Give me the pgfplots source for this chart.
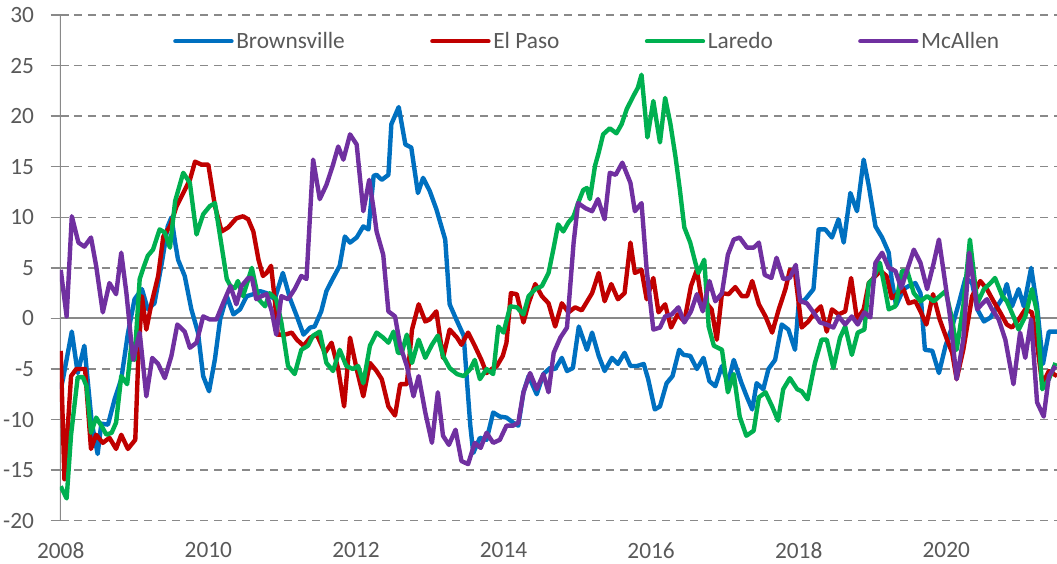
\documentclass[border=0pt]{standalone}
\usepackage{fontspec}
\setmainfont{Carlito}
\usepackage{pgfplots}
\pgfplotsset{compat=1.18}
\definecolor{cBlue}{HTML}{0070C0}
\definecolor{cRed}{HTML}{C00000}
\definecolor{cGreen}{HTML}{00B050}
\definecolor{cPurple}{HTML}{7030A0}
\definecolor{gridg}{HTML}{898989}
\definecolor{txtg}{HTML}{595959}
\begin{document}
\begin{tikzpicture}
\begin{axis}[
  at={(0,0)}, anchor=south west,
  scale only axis, width=747.75pt, height=379.3pt,
  xmin=2007.99, xmax=2021.5, ymin=-20, ymax=30,
  xtick={2008,2010,2012,2014,2016,2018,2020},
  xticklabels={2008,2010,2012,2014,2016,2018,2020},
  ytick={-20,-15,...,30},
  xtick style={draw=none},
  ytick pos=left,
  tick align=center,
  major tick length=14pt,
  ytick style={gridg, line width=1pt},
  axis line style={draw=none},
  ymajorgrids=true,
  major grid style={gridg, line width=1.1pt, dash pattern=on 6pt off 4.5pt},
  extra y ticks={0},
  extra y tick labels={},
  extra y tick style={grid=major, major grid style={gridg, line width=1.5pt, solid}},
  /pgf/number format/assume math mode=true,
  tick label style={font=\fontsize{17.5}{20}\selectfont, text=txtg},
  yticklabel style={xshift=-9pt},
  xticklabel style={yshift=-6pt},
  legend style={at={(axis description cs:0.1133,0.948)}, anchor=west, draw=none, fill=none,
    font=\fontsize{17.5}{20}\selectfont, text=txtg, legend columns=4,
    /tikz/every even column/.append style={column sep=62pt},
    inner sep=0pt},
  legend image code/.code={\draw[#1, line cap=round] (0pt,0pt) -- (42pt,0pt);},
  every axis plot/.append style={line width=3.3pt, line join=round},
]
\draw[gridg, line width=1.3pt] (axis description cs:0,0) -- (axis description cs:0,1);
\addplot[cBlue] coordinates {(2008.00,-7)(2008.03,-6)(2008.15,-1.3)(2008.23,-5.4)(2008.32,-2.7)(2008.42,-10.3)(2008.50,-13.4)(2008.55,-10.4)(2008.64,-10.5)(2008.73,-8)(2008.82,-6)(2008.91,-1.5)(2009.00,1.9)(2009.10,2.9)(2009.18,0.9)(2009.27,1.5)(2009.37,5.5)(2009.45,9.1)(2009.50,10)(2009.55,7.5)(2009.59,5.8)(2009.68,4.2)(2009.77,0.9)(2009.86,-1.4)(2009.93,-5.7)(2010.01,-7.2)(2010.09,-4)(2010.16,-0.1)(2010.25,2.2)(2010.34,0.4)(2010.43,0.9)(2010.52,2.2)(2010.61,2.4)(2010.70,2.7)(2010.79,2.5)(2010.90,1.9)(2011.01,4.5)(2011.11,1.9)(2011.20,0.2)(2011.29,-1.6)(2011.38,-0.9)(2011.44,-0.8)(2011.53,0.7)(2011.60,2.7)(2011.67,3.7)(2011.78,5.2)(2011.85,8.1)(2011.92,7.5)(2012.01,8)(2012.10,9.1)(2012.17,8.8)(2012.24,14.1)(2012.28,14.2)(2012.35,13.7)(2012.44,14.2)(2012.48,19.2)(2012.58,20.9)(2012.67,17.2)(2012.75,16.9)(2012.84,12.4)(2012.91,13.9)(2013.00,12.6)(2013.09,10.8)(2013.21,7.8)(2013.27,1.4)(2013.36,-0.1)(2013.46,-1.7)(2013.50,-5.7)(2013.55,-10.6)(2013.59,-13.3)(2013.68,-11.8)(2013.77,-12)(2013.86,-9.3)(2013.95,-9.7)(2014.04,-9.8)(2014.13,-10.3)(2014.20,-10.6)(2014.27,-7.3)(2014.34,-5.7)(2014.45,-7.5)(2014.54,-5.5)(2014.63,-4.9)(2014.70,-5)(2014.79,-3.9)(2014.86,-5.2)(2014.94,-4.9)(2015.02,-0.8)(2015.13,-3.1)(2015.20,-1.4)(2015.29,-3.7)(2015.37,-5.2)(2015.47,-3.9)(2015.55,-4.5)(2015.64,-3.4)(2015.72,-4.7)(2015.81,-4.7)(2015.90,-4.5)(2015.96,-6)(2016.05,-9)(2016.12,-8.7)(2016.21,-6.4)(2016.29,-5.7)(2016.38,-3.1)(2016.44,-3.6)(2016.53,-3.7)(2016.62,-5)(2016.71,-3.9)(2016.79,-6.2)(2016.87,-6.7)(2016.96,-4.7)(2017.04,-6.4)(2017.12,-4.1)(2017.22,-6.3)(2017.30,-7.8)(2017.37,-9)(2017.43,-6.4)(2017.52,-7)(2017.59,-5)(2017.68,-4.1)(2017.77,-0.6)(2017.86,-1.1)(2017.95,-3.1)(2018.00,1.5)(2018.09,1.9)(2018.20,2.9)(2018.27,8.8)(2018.36,8.8)(2018.45,8)(2018.54,9.8)(2018.61,7.5)(2018.70,12.4)(2018.79,10.6)(2018.88,15.7)(2018.95,13.1)(2019.04,9.1)(2019.13,8)(2019.22,6.5)(2019.26,3.8)(2019.32,1.3)(2019.42,2.9)(2019.49,3.2)(2019.58,3.5)(2019.65,2.5)(2019.71,-3.1)(2019.81,-3.2)(2019.90,-5.4)(2019.99,-2.7)(2020.08,-0.8)(2020.17,1.5)(2020.26,4)(2020.35,3.5)(2020.42,0.9)(2020.51,-0.3)(2020.60,0.1)(2020.69,1.2)(2020.76,2)(2020.82,3.4)(2020.89,1.2)(2020.98,2.9)(2021.05,1.2)(2021.15,5)(2021.23,1.2)(2021.31,-4.5)(2021.39,-1.3)(2021.50,-1.3)};
\addlegendentry{Brownsville}
\addplot[cRed] coordinates {(2008.00,-3.2)(2008.05,-15.9)(2008.14,-5.7)(2008.21,-5)(2008.33,-5)(2008.41,-12.9)(2008.48,-11.5)(2008.57,-12.3)(2008.66,-11.8)(2008.75,-12.9)(2008.82,-11.5)(2008.91,-12.9)(2009.01,-12)(2009.05,-4.1)(2009.10,2.2)(2009.16,-1.1)(2009.23,1.5)(2009.32,4.2)(2009.39,8.1)(2009.48,9.1)(2009.57,11.1)(2009.66,12.4)(2009.75,13.7)(2009.82,15.5)(2009.91,15.2)(2010.00,15.2)(2010.09,11.1)(2010.18,8.6)(2010.27,9)(2010.38,9.9)(2010.47,10.1)(2010.54,9.8)(2010.61,8.6)(2010.68,5.8)(2010.74,4.2)(2010.79,4.5)(2010.85,5.2)(2010.90,1.9)(2010.94,-1.6)(2011.04,-1.6)(2011.13,-1.4)(2011.20,-2.1)(2011.29,-2.7)(2011.38,-1.9)(2011.47,-1.6)(2011.58,-3.4)(2011.67,-2.4)(2011.76,-5)(2011.84,-8.7)(2011.92,-1.9)(2012.01,-5)(2012.10,-7.7)(2012.19,-4.4)(2012.28,-5.2)(2012.35,-6)(2012.44,-8.7)(2012.53,-9.6)(2012.60,-6.5)(2012.69,-6.5)(2012.76,-1.1)(2012.85,1.4)(2012.94,-0.3)(2013.00,-0.1)(2013.09,0.7)(2013.18,-3.9)(2013.27,-1.1)(2013.37,-1.9)(2013.43,-2.6)(2013.52,-1.4)(2013.61,-2.7)(2013.70,-4.1)(2013.77,-5.4)(2013.84,-5)(2013.91,-4.7)(2013.99,-3.7)(2014.04,-2.4)(2014.10,2.5)(2014.18,2.4)(2014.27,-0.4)(2014.34,1.5)(2014.43,3.4)(2014.52,2.2)(2014.61,1.5)(2014.70,-0.8)(2014.79,1.5)(2014.88,0.6)(2014.97,1.1)(2015.06,0.8)(2015.20,2.5)(2015.29,4.5)(2015.37,1.7)(2015.46,3.4)(2015.55,1.9)(2015.64,2.5)(2015.72,7.5)(2015.78,4.5)(2015.87,4.8)(2015.94,1.9)(2016.03,4)(2016.10,0.6)(2016.19,1.4)(2016.27,-0.9)(2016.36,0.4)(2016.45,-0.3)(2016.54,3.2)(2016.62,4.8)(2016.69,1.5)(2016.75,1.5)(2016.82,0.9)(2016.89,-2.1)(2016.96,2.5)(2017.05,2.4)(2017.14,3.1)(2017.23,2.2)(2017.30,2.2)(2017.37,3.7)(2017.46,1.4)(2017.55,0.2)(2017.64,-1.4)(2017.73,0.9)(2017.82,2.9)(2017.88,4.8)(2017.95,4.5)(2018.04,-0.9)(2018.13,-0.3)(2018.22,0.6)(2018.30,1.2)(2018.38,-1.3)(2018.45,0.9)(2018.54,0.4)(2018.63,0.7)(2018.71,4)(2018.79,-0.1)(2018.88,0.9)(2018.95,3.5)(2019.04,4.2)(2019.11,4.7)(2019.19,4.2)(2019.26,2)(2019.35,2.5)(2019.42,2.9)(2019.49,1.5)(2019.58,1.7)(2019.65,0.7)(2019.73,-0.6)(2019.82,2.4)(2019.91,-0.1)(2020.01,-2.1)(2020.08,-3.4)(2020.14,-6)(2020.23,-3.1)(2020.35,2.2)(2020.46,3.7)(2020.55,2.9)(2020.64,1.7)(2020.73,0.6)(2020.82,-0.6)(2020.89,-0.9)(2020.98,-0.1)(2021.07,0.9)(2021.16,0.6)(2021.23,-2.5)(2021.30,-6.5)(2021.39,-5.2)(2021.50,-5.7)};
\addlegendentry{El Paso}
\addplot[cGreen] coordinates {(2008.00,-16.6)(2008.08,-17.8)(2008.14,-11.5)(2008.23,-5.8)(2008.30,-5.8)(2008.35,-6.7)(2008.41,-11.3)(2008.48,-9.8)(2008.55,-10.6)(2008.62,-11.5)(2008.69,-11.3)(2008.75,-10.3)(2008.82,-5.7)(2008.90,-6.5)(2008.96,-2.4)(2009.00,-4.1)(2009.07,3.9)(2009.12,5)(2009.18,6.2)(2009.25,6.8)(2009.34,8.8)(2009.41,8.5)(2009.48,7)(2009.55,11.6)(2009.66,14.4)(2009.75,13.4)(2009.84,8.3)(2009.93,10.3)(2010.02,11.1)(2010.09,11.4)(2010.16,8.1)(2010.25,3.9)(2010.30,3.2)(2010.36,3)(2010.40,3.7)(2010.47,2.2)(2010.59,5)(2010.68,1.9)(2010.77,1.2)(2010.83,2.5)(2010.92,1.9)(2010.99,-0.4)(2011.08,-4.7)(2011.17,-5.5)(2011.26,-3.1)(2011.35,-2.7)(2011.42,-1.7)(2011.51,-1.3)(2011.60,-4.4)(2011.69,-5.2)(2011.78,-3.1)(2011.87,-4.7)(2011.96,-5)(2012.03,-4.7)(2012.10,-6.4)(2012.19,-2.7)(2012.28,-1.4)(2012.37,-1.9)(2012.44,-2.4)(2012.51,-1.3)(2012.57,-3.4)(2012.62,-3.4)(2012.69,-1.6)(2012.76,-4.4)(2012.85,-2.1)(2012.94,-3.9)(2013.03,-2.6)(2013.11,-1.7)(2013.18,-3.7)(2013.27,-4.9)(2013.37,-5.5)(2013.46,-5.7)(2013.55,-5)(2013.61,-4.1)(2013.68,-6)(2013.77,-5)(2013.86,-5.5)(2013.93,-0.8)(2014.00,-1.4)(2014.09,1.2)(2014.18,1.1)(2014.27,0.4)(2014.34,2.2)(2014.43,2.9)(2014.52,3.2)(2014.61,4.5)(2014.68,7)(2014.74,9.3)(2014.81,8.6)(2014.88,9.5)(2014.95,10.1)(2015.01,11.4)(2015.08,12.7)(2015.13,12.9)(2015.17,11.8)(2015.24,15.1)(2015.29,16.4)(2015.35,18.2)(2015.44,18.8)(2015.53,18.3)(2015.60,19.2)(2015.67,20.7)(2015.76,22)(2015.82,22.8)(2015.87,24.1)(2015.95,17.9)(2016.03,21.5)(2016.12,17.4)(2016.19,21.8)(2016.26,19.3)(2016.33,16)(2016.39,12.7)(2016.45,9)(2016.53,7.5)(2016.60,5.5)(2016.64,4.5)(2016.72,5.8)(2016.78,-0.8)(2016.85,-2.7)(2016.96,-3.1)(2017.04,-7.3)(2017.12,-5.5)(2017.20,-9.7)(2017.29,-11.6)(2017.39,-11.1)(2017.46,-7.8)(2017.55,-7.3)(2017.64,-8.7)(2017.72,-10.1)(2017.79,-7)(2017.88,-5.9)(2017.98,-7)(2018.04,-7.2)(2018.12,-8)(2018.22,-4.4)(2018.31,-2.1)(2018.38,-2.1)(2018.47,-4.9)(2018.56,-1.9)(2018.63,-0.8)(2018.72,-3.6)(2018.80,-1.4)(2018.89,-1.1)(2018.95,3.5)(2019.01,3.9)(2019.10,5.5)(2019.17,2.9)(2019.22,0.9)(2019.31,1.2)(2019.40,4.7)(2019.47,4.7)(2019.56,2.5)(2019.65,1.7)(2019.74,2.2)(2019.83,1.7)(2019.91,2.2)(2019.99,2.7)(2020.08,-0.1)(2020.14,-3.1)(2020.23,1.2)(2020.32,7.8)(2020.42,1.5)(2020.51,2.9)(2020.60,3.5)(2020.66,4)(2020.76,2.2)(2020.82,1.7)(2020.91,0.2)(2020.98,-1.1)(2021.07,0.2)(2021.16,2.9)(2021.23,0.6)(2021.30,-7)(2021.39,-6)(2021.48,-4.4)};
\addlegendentry{Laredo}
\addplot[cPurple] coordinates {(2008.00,4.8)(2008.08,0.2)(2008.15,10.1)(2008.24,7.5)(2008.32,7.1)(2008.41,8)(2008.48,5.2)(2008.57,0.6)(2008.66,3.5)(2008.75,2.4)(2008.82,6.5)(2008.89,2.5)(2008.98,-4.1)(2009.07,-1.4)(2009.16,-7.7)(2009.24,-3.9)(2009.32,-4.5)(2009.41,-5.9)(2009.50,-3.7)(2009.58,-0.6)(2009.68,-1.3)(2009.75,-2.9)(2009.84,-2.4)(2009.93,0.2)(2010.02,-0.1)(2010.11,-0.1)(2010.20,1.5)(2010.30,3.2)(2010.38,1.4)(2010.45,3.2)(2010.54,4)(2010.59,4)(2010.65,1.9)(2010.72,2.2)(2010.79,2.4)(2010.86,0.7)(2010.92,-1.6)(2010.99,2.2)(2011.08,1.9)(2011.17,2.9)(2011.26,4.2)(2011.33,3.9)(2011.42,15.7)(2011.51,11.8)(2011.60,13.2)(2011.69,15.2)(2011.76,17)(2011.83,15.7)(2011.92,18.2)(2012.01,17.2)(2012.10,10.6)(2012.18,13.7)(2012.24,10.8)(2012.28,8.6)(2012.37,6.3)(2012.44,0.7)(2012.53,0.2)(2012.60,-2.7)(2012.69,-4.7)(2012.78,-7.7)(2012.85,-5.7)(2012.94,-9.3)(2013.03,-12.3)(2013.11,-7.3)(2013.18,-11.6)(2013.26,-12.5)(2013.35,-11)(2013.43,-14.1)(2013.52,-14.4)(2013.61,-12.3)(2013.69,-12.8)(2013.77,-11.3)(2013.86,-12.3)(2013.95,-12)(2014.04,-10.6)(2014.13,-10.6)(2014.20,-10.3)(2014.27,-7.3)(2014.36,-5.4)(2014.45,-7)(2014.54,-5.5)(2014.61,-7.3)(2014.68,-3.4)(2014.77,-1.9)(2014.86,-0.9)(2014.95,7.5)(2015.01,11.4)(2015.11,10.9)(2015.20,10.6)(2015.28,11.8)(2015.37,9.8)(2015.44,14.4)(2015.52,14.2)(2015.61,15.4)(2015.72,13.4)(2015.78,10.6)(2015.87,11.4)(2015.94,4.8)(2016.03,-1.1)(2016.12,-0.9)(2016.19,0.2)(2016.28,0.4)(2016.37,1.1)(2016.45,-0.4)(2016.54,0.7)(2016.62,2.4)(2016.70,0.7)(2016.79,3.7)(2016.87,1.7)(2016.96,2.5)(2017.04,6.3)(2017.12,7.8)(2017.20,8)(2017.30,7)(2017.39,7)(2017.46,7.5)(2017.54,4.3)(2017.63,4)(2017.70,6)(2017.79,3.9)(2017.88,4)(2017.96,5.3)(2018.02,1.7)(2018.11,1.5)(2018.20,0.6)(2018.29,-0.4)(2018.38,-0.6)(2018.47,-0.9)(2018.54,0.2)(2018.63,-0.6)(2018.72,0.2)(2018.80,-0.6)(2018.89,0.6)(2018.97,0.1)(2019.04,5.5)(2019.13,6.5)(2019.22,5)(2019.31,4.7)(2019.39,3)(2019.47,4.8)(2019.56,6.8)(2019.65,5.5)(2019.74,2.9)(2019.83,5.5)(2019.90,7.8)(2019.96,4.8)(2020.05,0.2)(2020.14,-6)(2020.23,-2.1)(2020.31,6.5)(2020.42,0.9)(2020.48,1.4)(2020.55,1.9)(2020.62,0.9)(2020.71,-0.1)(2020.80,-2.1)(2020.91,-6.5)(2021.00,-1.4)(2021.07,-3.9)(2021.15,-0.1)(2021.23,-8.3)(2021.32,-9.7)(2021.39,-5.7)(2021.48,-4.7)};
\addlegendentry{McAllen}
\end{axis}
\pgfresetboundingbox
\useasboundingbox (-45pt,-32.25pt) rectangle (747.75pt,390.55pt);
\end{tikzpicture}
\end{document}
